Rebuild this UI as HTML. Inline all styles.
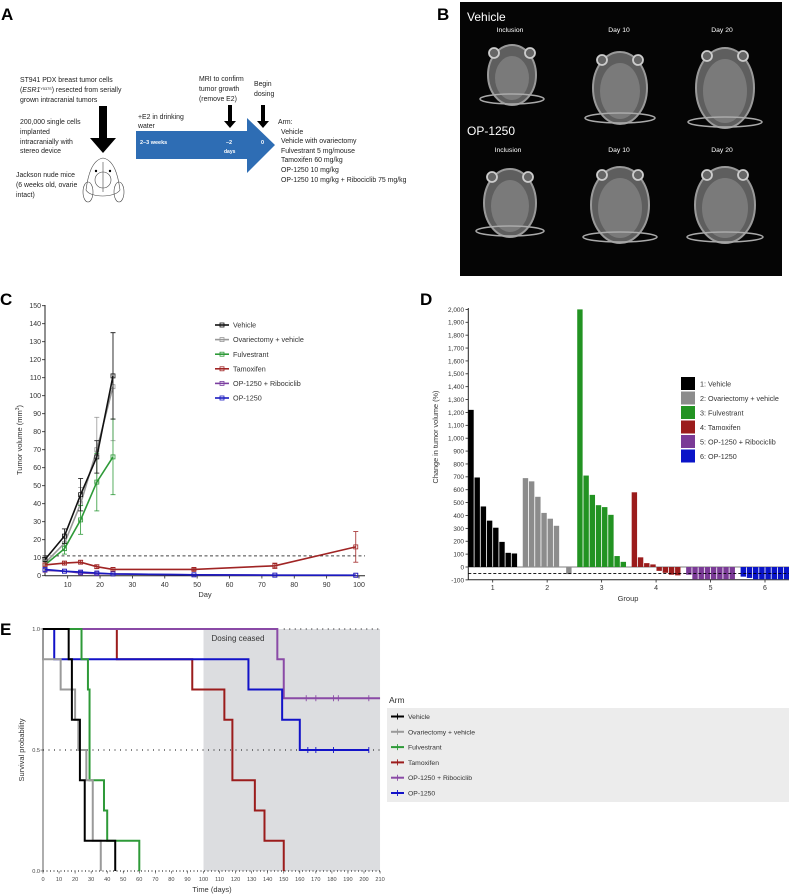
<!DOCTYPE html>
<html><head><meta charset="utf-8">
<style>
html,body{margin:0;padding:0;background:#fff;}
svg{display:block;font-family:"Liberation Sans",sans-serif;}
</style></head>
<body>
<svg id="fig" width="789" height="895" viewBox="0 0 789 895" xmlns="http://www.w3.org/2000/svg">
<text x="1" y="20" font-size="17" font-weight="bold">A</text>
<text x="437" y="20" font-size="17" font-weight="bold">B</text>
<text x="0" y="305" font-size="17" font-weight="bold">C</text>
<text x="420" y="305" font-size="17" font-weight="bold">D</text>
<text x="0" y="635" font-size="17" font-weight="bold">E</text>

<g font-size="6.9" fill="#222">
  <text x="20" y="82">ST941 PDX breast tumor cells</text>
  <text x="20" y="92">(<tspan font-style="italic">ESR1</tspan><tspan font-size="3.8" dy="-2">Y537S</tspan><tspan dy="2">) resected from serially</tspan></text>
  <text x="20" y="102">grown intracranial tumors</text>
  <text x="20" y="124">200,000 single cells</text>
  <text x="20" y="134">implanted</text>
  <text x="20" y="144">intracranially with</text>
  <text x="20" y="153">stereo device</text>
  <text x="16" y="177">Jackson nude mice</text>
  <text x="16" y="187">(6 weeks old, ovarie</text>
  <text x="16" y="197">intact)</text>
  <polygon points="99,106 107,106 107,138 116,138 103,153 90,138 99,138" fill="#000"/>
  <g fill="none" stroke="#444" stroke-width="0.6">
    <path d="M103,158 C92,160 88,175 86,190 C90,198 115,198 120,190 C118,175 114,160 103,158 Z"/>
    <ellipse cx="88" cy="192" rx="5" ry="10"/>
    <ellipse cx="119" cy="192" rx="5" ry="10"/>
    <circle cx="103" cy="180" r="8"/>
    <line x1="103" y1="162" x2="103" y2="192"/>
  </g>
  <circle cx="96" cy="171" r="1.2" fill="#000"/><circle cx="110" cy="171" r="1.2" fill="#000"/>
  <text x="138" y="119">+E2 in drinking</text>
  <text x="138" y="128">water</text>
  <polygon points="136,131 247,131 247,118 275,145 247,173 247,159 136,159" fill="#2e6db4"/>
  <text x="140" y="144" fill="#fff" font-size="5.5" font-weight="bold">2–3 weeks</text>
  <text x="226" y="144" fill="#fff" font-size="5.5" font-weight="bold">–2</text>
  <text x="224" y="153" fill="#fff" font-size="5" font-weight="bold">days</text>
  <text x="261" y="144" fill="#fff" font-size="5.5" font-weight="bold">0</text>
  <text x="199" y="81">MRI to confirm</text>
  <text x="199" y="91">tumor growth</text>
  <text x="199" y="101">(remove E2)</text>
  <polygon points="228,105 232,105 232,121 236,121 230,128 224,121 228,121" fill="#000"/>
  <text x="254" y="86">Begin</text>
  <text x="254" y="96">dosing</text>
  <polygon points="261,105 265,105 265,121 269,121 263,128 257,121 261,121" fill="#000"/>
  <text x="278" y="124">Arm:</text>
  <text x="281" y="134">Vehicle</text>
  <text x="281" y="143">Vehicle with ovariectomy</text>
  <text x="281" y="153">Fulvestrant 5 mg/mouse</text>
  <text x="281" y="162">Tamoxifen 60 mg/kg</text>
  <text x="281" y="172">OP-1250 10 mg/kg</text>
  <text x="281" y="182">OP-1250 10 mg/kg + Ribociclib 75 mg/kg</text>
</g>

<g>
  <rect x="460" y="2" width="322" height="274" fill="#050505"/>
  <g id="brains"></g>
  <text x="467" y="21" fill="#fff" font-size="12">Vehicle</text>
  <text x="467" y="135" fill="#fff" font-size="12">OP-1250</text>
  <g fill="#fff" font-size="6.8" text-anchor="middle">
    <text x="510" y="32">Inclusion</text><text x="619" y="32">Day 10</text><text x="722" y="32">Day 20</text>
    <text x="508" y="152">Inclusion</text><text x="619" y="152">Day 10</text><text x="722" y="152">Day 20</text>
  </g>
</g>

<g id="panelC"></g>
<g id="panelD"></g>
<g id="panelE"></g>
</svg>
<script>
const cDaysEarly = [3, 9, 14, 19, 24];
const cDaysAll = [3, 9, 14, 19, 24, 49, 74, 99];
const vehicleVals = [9, 22, 45, 66, 111];
const vehicleErr = [2, 4, 9, 9, 24];
const ovxVals = [7, 18, 40, 70, 105];
const ovxErr = [2, 4, 9, 18, 30];
const fulvVals = [6, 15, 31, 52, 66];
const fulvErr = [2, 3, 8, 16, 21];
const tamVals = [6, 7, 7.5, 5, 3.5, 3.5, 5.5, 16];
const tamErr = [1, 1, 1, 1, 1, 0.8, 1.5, 8.5];
const riboVals = [3, 2.5, 1.5, 1.2, 1, 0.5, 0.3, 0.2];
const opVals = [3.5, 2.5, 2, 1.5, 1, 0.5, 0.3, 0.3];
const cYTicks = [0,10,20,30,40,50,60,70,80,90,100,110,120,130,140,150];
const cXTicks = [10,20,30,40,50,60,70,80,90,100];
const cThreshold = 11;
const cLegend = ["Vehicle","Ovariectomy + vehicle","Fulvestrant","Tamoxifen","OP-1250 + Ribociclib","OP-1250"];

const dGroups = [1,2,3,4,5,6];
const dGroupVals = [
  [1220, 695, 470, 360, 305, 195, 110, 105],
  [690, 665, 545, 420, 375, 320, 0, -55],
  [2000, 710, 560, 480, 465, 405, 85, 40],
  [580, 75, 30, 20, -30, -45, -60, -65],
  [-60, -95, -95, -95, -95, -95, -95, -95],
  [-75, -85, -95, -95, -95, -95, -95, -95]
];
const dYTicks = [-100,0,100,200,300,400,500,600,700,800,900,1000,1100,1200,1300,1400,1500,1600,1700,1800,1900,2000];
const dThreshold = -50;
const dLegend = ["1: Vehicle","2: Ovariectomy + vehicle","3: Fulvestrant","4: Tamoxifen","5: OP-1250 + Ribociclib","6: OP-1250"];

const eVehicleT = [0, 16, 18, 23, 26, 45];
const eVehicleS = [1, 0.875, 0.625, 0.375, 0.125, 0];
const eOvxT = [0, 0, 11, 20, 22, 27, 31, 36];
const eOvxS = [1, 0.875, 0.75, 0.625, 0.5, 0.375, 0.125, 0];
const eFulvT = [0, 24, 28, 29, 38, 40, 60];
const eFulvS = [1, 0.875, 0.75, 0.375, 0.25, 0.125, 0];
const eTamT = [0, 46, 93, 113, 118, 132, 138, 150];
const eTamS = [1, 0.875, 0.75, 0.625, 0.375, 0.25, 0.125, 0];
const eRiboT = [0, 146, 150, 210];
const eRiboS = [1, 0.875, 0.714, 0.714];
const eRiboCensor = [164, 170, 181, 184, 203];
const eOpT = [0, 7, 128, 149, 160, 203];
const eOpS = [1, 0.875, 0.75, 0.625, 0.5, 0.5];
const eOpCensor = [165, 170, 181, 203];
const eXTicks = [0,10,20,30,40,50,60,70,80,90,100,110,120,130,140,150,160,170,180,190,200,210];
const eYTicks = [0.0, 0.5, 1.0];
const eDoseStop = 100;
const eLegend = ["Vehicle","Ovariectomy + vehicle","Fulvestrant","Tamoxifen","OP-1250 + Ribociclib","OP-1250"];

const NS = "http://www.w3.org/2000/svg";
function mk(parent, tag, attrs, text){
  const el = document.createElementNS(NS, tag);
  for (const k in attrs) el.setAttribute(k, attrs[k]);
  if (text !== undefined) el.textContent = text;
  parent.appendChild(el);
  return el;
}

const brains = document.getElementById('brains');
[[512,75,24,30],[620,88,27,36],[725,88,29,40],[510,203,26,34],[620,205,29,38],[725,205,30,38]].forEach((p,i)=>{
  const e = mk(brains,'ellipse',{cx:p[0],cy:p[1],rx:p[2],ry:p[3],fill:'#5e5e5e',stroke:'#9a9a9a','stroke-width':2});
  
  
  mk(brains,'ellipse',{cx:p[0],cy:p[1]+3,rx:p[2]-7,ry:p[3]-8,fill:'#7a7a7a'});
  mk(brains,'ellipse',{cx:p[0],cy:p[1]+p[3]-6,rx:p[2]+8,ry:5,fill:'none',stroke:'#aaa','stroke-width':1.5});
  mk(brains,'circle',{cx:p[0]-18,cy:p[1]-p[3]+8,r:5,fill:'#666',stroke:'#ccc','stroke-width':1.8});
  mk(brains,'circle',{cx:p[0]+18,cy:p[1]-p[3]+8,r:5,fill:'#666',stroke:'#ccc','stroke-width':1.8});
});

const C = document.getElementById('panelC');
const xC = d => 35.3 + 3.237*d;
const yC = v => 575.7 - 1.8*v;
mk(C,'line',{x1:45,y1:305,x2:45,y2:575.7,stroke:'#222','stroke-width':1});
mk(C,'line',{x1:45,y1:575.7,x2:365,y2:575.7,stroke:'#222','stroke-width':1});
cYTicks.forEach(t=>{
  mk(C,'line',{x1:42,y1:yC(t),x2:45,y2:yC(t),stroke:'#222','stroke-width':0.8});
  const tx = mk(C,'text',{x:41,y:yC(t)+2.5,'font-size':7,'text-anchor':'end',fill:'#333'},t);
  
  
});
cXTicks.forEach(t=>{
  mk(C,'line',{x1:xC(t),y1:575.7,x2:xC(t),y2:578.5,stroke:'#222','stroke-width':0.8});
  const tx = mk(C,'text',{x:xC(t),y:587,'font-size':7,'text-anchor':'middle',fill:'#333'},t);
  
  
});
const cxt = mk(C,'text',{x:205,y:597,'font-size':7.5,'text-anchor':'middle',fill:'#333'},'Day');


const cyt = mk(C,'text',{x:0,y:0,'font-size':7.5,'text-anchor':'middle',fill:'#333',transform:'translate(22,440) rotate(-90)'});


cyt.innerHTML = 'Tumor volume (mm<tspan font-size="5" dy="-3">3</tspan><tspan dy="3">)</tspan>';
mk(C,'line',{x1:45,y1:yC(cThreshold),x2:365,y2:yC(cThreshold),stroke:'#444','stroke-width':1,'stroke-dasharray':'3,2.5'});

function cSeries(days, vals, errs, color, name){
  const g = mk(C,'g',{});
  
  
  if (errs) days.forEach((d,i)=>{
    const x = xC(d), y1 = yC(vals[i]+errs[i]), y2 = yC(Math.max(0,vals[i]-errs[i]));
    mk(g,'line',{x1:x,y1:y1,x2:x,y2:y2,stroke:color,'stroke-width':0.8});
    mk(g,'line',{x1:x-2.5,y1:y1,x2:x+2.5,y2:y1,stroke:color,'stroke-width':0.8});
    mk(g,'line',{x1:x-2.5,y1:y2,x2:x+2.5,y2:y2,stroke:color,'stroke-width':0.8});
  });
  mk(g,'polyline',{points:days.map((d,i)=>xC(d)+','+yC(vals[i])).join(' '),fill:'none',stroke:color,'stroke-width':1.6});
  days.forEach((d,i)=>{
    const m = mk(g,'rect',{x:xC(d)-2,y:yC(vals[i])-2,width:4,height:4,fill:'none',stroke:color,'stroke-width':0.8});
    
    
  });
}
cSeries(cDaysEarly, ovxVals, ovxErr, '#999', 'ovx-series');
cSeries(cDaysEarly, fulvVals, fulvErr, '#2e9a38', 'fulvestrant-series');
cSeries(cDaysEarly, vehicleVals, vehicleErr, '#111', 'vehicle-series');
cSeries(cDaysAll, tamVals, tamErr, '#a02424', 'tamoxifen-series');
cSeries(cDaysAll, riboVals, null, '#7b3fa0', 'ribociclib-series');
cSeries(cDaysAll, opVals, null, '#1a1ac0', 'op1250-series');
const cColors = ['#111','#999','#2e9a38','#a02424','#7b3fa0','#1a1ac0'];
cLegend.forEach((l,i)=>{
  const y = 325 + i*14.6;
  const g = mk(C,'g',{});
  
  
  mk(g,'line',{x1:215,y1:y,x2:229,y2:y,stroke:cColors[i],'stroke-width':1.6});
  mk(g,'rect',{x:220,y:y-2,width:4,height:4,fill:'none',stroke:cColors[i],'stroke-width':0.8});
  mk(g,'text',{x:233,y:y+2.6,'font-size':7.2,fill:'#333'},l);
});

const D = document.getElementById('panelD');
const xD = g => 492.7 + 54.46*(g-1);
const yD = v => 567 - 0.1288*v;
const dColors = ['#000','#8c8c8c','#229322','#9b1c1c','#7a3a96','#0a14c8'];
mk(D,'line',{x1:468.3,y1:308,x2:468.3,y2:579.7,stroke:'#222','stroke-width':1});
mk(D,'line',{x1:468.3,y1:579.7,x2:789,y2:579.7,stroke:'#222','stroke-width':1});
dYTicks.forEach(t=>{
  mk(D,'line',{x1:465.5,y1:yD(t),x2:468.3,y2:yD(t),stroke:'#222','stroke-width':0.8});
  const tx = mk(D,'text',{x:464,y:yD(t)+2.4,'font-size':6.4,'text-anchor':'end',fill:'#333'},t.toLocaleString('en-US'));
  
  
});
dGroups.forEach(g=>{
  mk(D,'line',{x1:xD(g),y1:579.7,x2:xD(g),y2:582.5,stroke:'#222','stroke-width':0.8});
  const tx = mk(D,'text',{x:xD(g),y:590,'font-size':7,'text-anchor':'middle',fill:'#333'},g);
  
  
});
mk(D,'line',{x1:468.3,y1:yD(0),x2:789,y2:yD(0),stroke:'#555','stroke-width':0.8});
dGroupVals.forEach((vals,gi)=>{
  vals.forEach((v,i)=>{
    const x = xD(dGroups[gi]) - 24.8 + i*6.2 + 0.4;
    const y = Math.min(yD(v), yD(0));
    const h = Math.abs(yD(v)-yD(0));
    const r = mk(D,'rect',{x:x,y:y,width:5.4,height:h,fill:dColors[gi]});
    
    
  });
});
mk(D,'line',{x1:468.3,y1:yD(dThreshold),x2:789,y2:yD(dThreshold),stroke:'#000','stroke-width':0.9,'stroke-dasharray':'3,2'});
const dxt = mk(D,'text',{x:628,y:601,'font-size':7.5,'text-anchor':'middle',fill:'#333'},'Group');


const dyt = mk(D,'text',{x:0,y:0,'font-size':7.3,'text-anchor':'middle',fill:'#333',transform:'translate(438,437) rotate(-90)'},'Change in tumor volume (%)');


dLegend.forEach((l,i)=>{
  const y = 377 + i*14.5;
  const g = mk(D,'g',{});
  
  
  mk(g,'rect',{x:681,y:y,width:14,height:13,fill:dColors[i]});
  mk(g,'text',{x:700,y:y+9.5,'font-size':7.2,fill:'#333'},l);
});

const E = document.getElementById('panelE');
const xE = t => 43 + 1.605*t;
const yE = s => 871 - 242*s;
mk(E,'rect',{x:xE(eDoseStop),y:yE(1),width:xE(210)-xE(eDoseStop),height:yE(0)-yE(1),fill:'#dcdde0'});
const dc = mk(E,'text',{x:238,y:641,'font-size':8,'text-anchor':'middle',fill:'#333'},'Dosing ceased');


mk(E,'line',{x1:xE(150),y1:yE(1),x2:xE(210),y2:yE(1),stroke:'#333','stroke-width':1.2,'stroke-dasharray':'1,4.5'});
mk(E,'line',{x1:xE(0),y1:yE(0.5),x2:xE(210),y2:yE(0.5),stroke:'#333','stroke-width':1.2,'stroke-dasharray':'1,4.5'});
mk(E,'line',{x1:xE(0),y1:yE(0),x2:xE(210),y2:yE(0),stroke:'#333','stroke-width':1.2,'stroke-dasharray':'1,2.5'});
mk(E,'line',{x1:43,y1:yE(1)-1,x2:43,y2:yE(0),stroke:'#333','stroke-width':0.8});
eXTicks.forEach(t=>{
  mk(E,'line',{x1:xE(t),y1:871,x2:xE(t),y2:873.5,stroke:'#333','stroke-width':0.6});
  const tx = mk(E,'text',{x:xE(t),y:881,'font-size':5.6,'text-anchor':'middle',fill:'#444'},t);
  
  
});
eYTicks.forEach(t=>{
  mk(E,'line',{x1:40.5,y1:yE(t),x2:43,y2:yE(t),stroke:'#333','stroke-width':0.6});
  const tx = mk(E,'text',{x:40,y:yE(t)+2,'font-size':5.6,'text-anchor':'end',fill:'#444'},t.toFixed(1));
  
  
});
const ext = mk(E,'text',{x:212,y:892,'font-size':7.5,'text-anchor':'middle',fill:'#333'},'Time (days)');


const eyt = mk(E,'text',{x:0,y:0,'font-size':7.5,'text-anchor':'middle',fill:'#333',transform:'translate(24,750) rotate(-90)'},'Survival probability');



function stepPath(T,S){
  let d = 'M'+xE(T[0])+','+yE(S[0]);
  for (let i=1;i<T.length;i++){
    d += ' H'+xE(T[i]) + ' V'+yE(S[i]);
  }
  return d;
}
function eSeries(T,S,color,name,censor){
  const p = mk(E,'path',{d:stepPath(T,S),fill:'none',stroke:color,'stroke-width':2});
  
  
  if (censor){
    const s = S[S.length-1];
    censor.forEach(c=>{
      const m = mk(E,'line',{x1:xE(c),y1:yE(s)-3,x2:xE(c),y2:yE(s)+3,stroke:color,'stroke-width':0.9});
      
      
    });
  }
}
const eColors = ['#000','#9a9a9a','#2e9a38','#9b1c1c','#8a4aa6','#1212c8'];
eSeries(eTamT,eTamS,eColors[3],'e-tamoxifen-curve');
eSeries(eRiboT,eRiboS,eColors[4],'e-ribociclib-curve',eRiboCensor);
eSeries(eOpT,eOpS,eColors[5],'e-op1250-curve',eOpCensor);
eSeries(eFulvT,eFulvS,eColors[2],'e-fulvestrant-curve');
eSeries(eOvxT,eOvxS,eColors[1],'e-ovx-curve');
eSeries(eVehicleT,eVehicleS,eColors[0],'e-vehicle-curve');
const at = mk(E,'text',{x:389,y:703,'font-size':8.5,fill:'#333'},'Arm');


mk(E,'rect',{x:387,y:708,width:402,height:94,fill:'#ececec'});
eLegend.forEach((l,i)=>{
  const y = 716.5 + i*15.3;
  const g = mk(E,'g',{});
  
  
  mk(g,'line',{x1:391,y1:y,x2:404,y2:y,stroke:eColors[i],'stroke-width':2});
  mk(g,'line',{x1:397.5,y1:y-3,x2:397.5,y2:y+3,stroke:eColors[i],'stroke-width':0.9});
  mk(g,'text',{x:408,y:y+2.5,'font-size':6.8,fill:'#333'},l);
});
</script>
</body></html>
